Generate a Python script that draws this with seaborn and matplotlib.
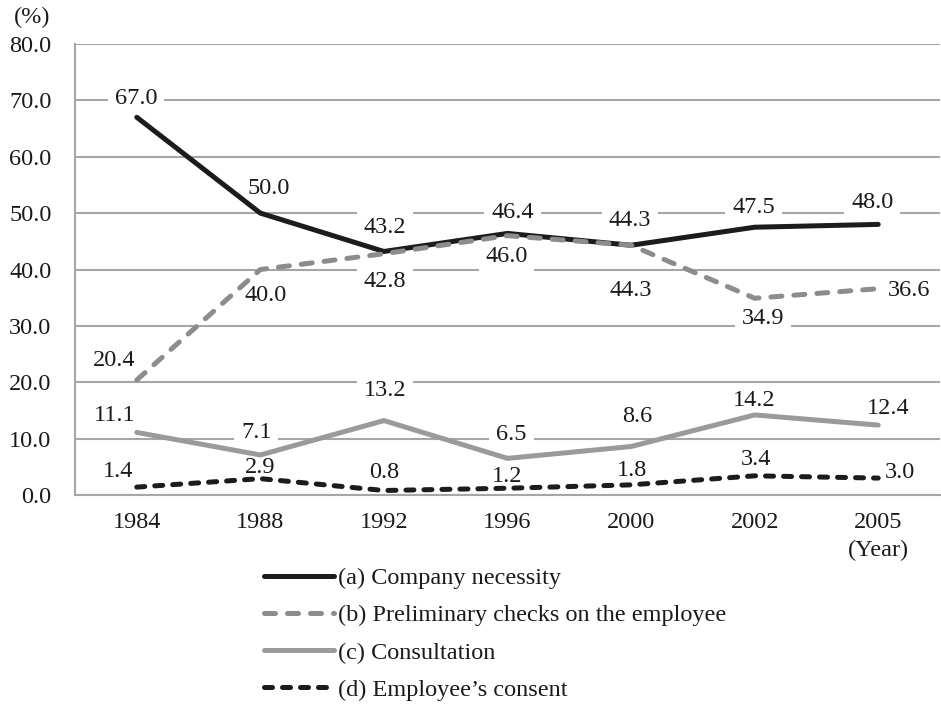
import matplotlib
matplotlib.use("Agg")
import matplotlib.pyplot as plt
import matplotlib.transforms as mtransforms
import seaborn as sns
import pandas as pd

years = ["1984", "1988", "1992", "1996", "2000", "2002", "2005"]
series_names = ["(a) Company necessity",
                "(b) Preliminary checks on the employee",
                "(c) Consultation",
                "(d) Employee\u2019s consent"]
company_necessity = [67.0, 50.0, 43.2, 46.4, 44.3, 47.5, 48.0]
preliminary_checks = [20.4, 40.0, 42.8, 46.0, 44.3, 34.9, 36.6]
consultation = [11.1, 7.1, 13.2, 6.5, 8.6, 14.2, 12.4]
employee_consent = [1.4, 2.9, 0.8, 1.2, 1.8, 3.4, 3.0]
y_ticks = [0, 10, 20, 30, 40, 50, 60, 70, 80]

values = [company_necessity, preliminary_checks, consultation, employee_consent]

# label offsets in pixels (dx, dy up)
label_offsets = [
    [(-1, 19), (8, 25), (1, 24), (5, 21), (-1, 25), (-1, 20), (-6, 22)],
    [(-23, 19), (5, -26), (1, -28), (-1, -21), (0, -45), (8, -20), (31, -2)],
    [(-22, 17), (-4, 22), (1, 30), (4, 24), (6, 30), (0, 14), (10, 17)],
    [(-19, 16), (0, 11), (0, 18), (0, 12), (1, 14), (1, 16), (22, 6)],
]

rows = []
for name, vals in zip(series_names, values):
    for yr, v in zip(years, vals):
        rows.append({"year": yr, "value": v, "series": name})
df = pd.DataFrame(rows)

sns.set_style("white")
plt.rcParams["font.family"] = ["Liberation Serif", "DejaVu Serif"]
FS = 17.5

fig = plt.figure(figsize=(9.41, 7.04), dpi=100)
ax = fig.add_axes([75 / 941, 1 - 495 / 704, 865 / 941, (495 - 44) / 704])

palette = {series_names[0]: "#1c1c1c", series_names[1]: "#8c8c8c",
           series_names[2]: "#9a9a9a", series_names[3]: "#1c1c1c"}
dashes = {series_names[0]: "", series_names[1]: (2.2, 2.4),
          series_names[2]: "", series_names[3]: (1.6, 2.0)}

sns.lineplot(data=df, x="year", y="value", hue="series", style="series",
             hue_order=series_names, style_order=series_names,
             palette=palette, dashes=dashes, linewidth=3.6, legend=False,
             sort=False, ax=ax, zorder=3)
for ln in ax.lines:
    ln.set_dash_capstyle("round")
    ln.set_solid_capstyle("round")
    ln.set_solid_joinstyle("miter")

ax.set_xlim(-0.5, len(years) - 0.5)
ax.set_ylim(0, 80)
ax.set_yticks(y_ticks)
ax.set_yticklabels([f"{t:.1f}" for t in y_ticks], fontsize=FS)
ax.set_xticks(range(len(years)))
ax.set_xticklabels(years, fontsize=FS)
ax.set_xticks([i - 0.5 for i in range(len(years) + 1)], minor=True)
ax.tick_params(axis="x", which="major", length=0, pad=12, colors="#1a1a1a")
ax.tick_params(axis="x", which="minor", length=5, width=1.5, color="#a6a6a6")
ax.tick_params(axis="y", which="major", length=5, width=1.5, color="#a6a6a6",
               pad=12, labelcolor="#1a1a1a")
ax.set_xlabel("")
ax.set_ylabel("")
ax.grid(axis="y", color="#a6a6a6", linewidth=1.5)
ax.set_axisbelow(True)
for s in ["top", "right"]:
    ax.spines[s].set_visible(False)
for s in ["left", "bottom"]:
    ax.spines[s].set_color("#a6a6a6")
    ax.spines[s].set_linewidth(1.5)

for vals, offs in zip(values, label_offsets):
    for i, (v, (dx, dy)) in enumerate(zip(vals, offs)):
        ax.annotate(f"{v:.1f}", xy=(i, v), xytext=(dx, dy),
                    textcoords="offset pixels", ha="center", va="center",
                    fontsize=FS, color="#1a1a1a", zorder=2,
                    annotation_clip=False,
                    bbox=dict(boxstyle="square,pad=0.28", fc="white",
                              ec="none"))

fig.text(32 / 941, 1 - 17 / 704, "(%)", ha="center", va="center",
         fontsize=FS, color="#1a1a1a")
trans = mtransforms.blended_transform_factory(ax.transData, fig.transFigure)
ax.text(len(years) - 1, 1 - 550 / 704, "(Year)", transform=trans,
        ha="center", va="center", fontsize=FS, color="#1a1a1a")

leg = fig.legend(handles=ax.lines[:4], labels=series_names,
                 loc="upper left", bbox_to_anchor=(264 / 941, 1 - 567 / 704),
                 frameon=False, fontsize=FS, handlelength=2.9,
                 handletextpad=0.15, labelspacing=0.63, borderpad=0,
                 borderaxespad=0)
for t in leg.get_texts():
    t.set_color("#1a1a1a")

fig.savefig("out.png", dpi=100)
